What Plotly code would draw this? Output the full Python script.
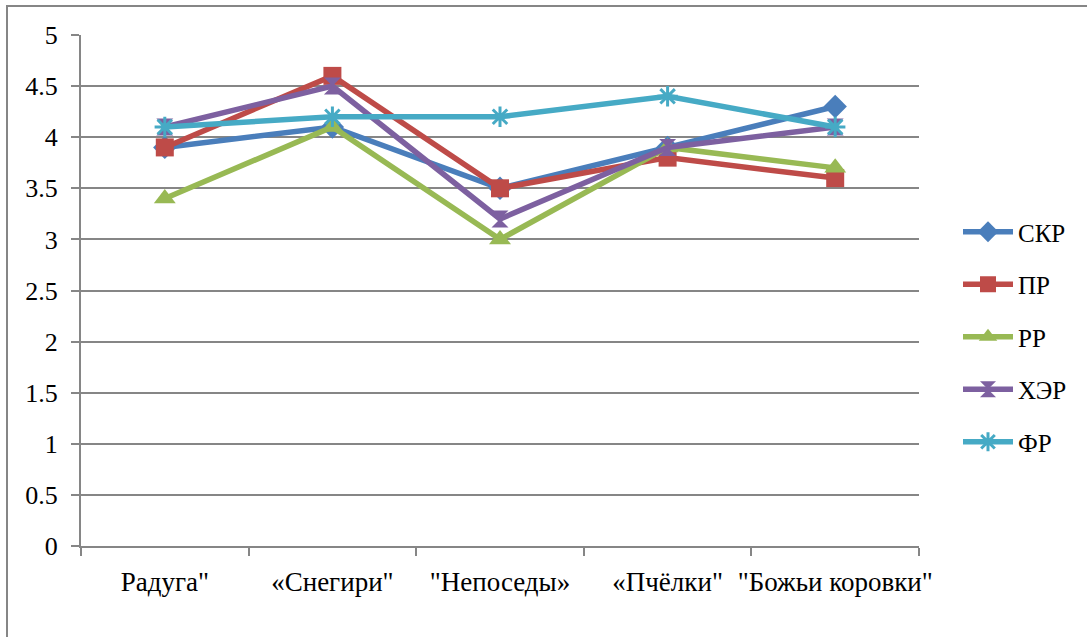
import plotly.graph_objects as go

categories = ['Радуга"', '«Снегири"', '"Непоседы»', '«Пчёлки"', '"Божьи коровки"']
skr = [3.9, 4.1, 3.5, 3.9, 4.3]
pr = [3.9, 4.6, 3.5, 3.8, 3.6]
rr = [3.4, 4.1, 3.0, 3.9, 3.7]
her = [4.1, 4.5, 3.2, 3.9, 4.1]
fr = [4.1, 4.2, 4.2, 4.4, 4.1]

series = [
    ("СКР", skr, "#4A7EBB", "diamond", 18),
    ("ПР", pr, "#BE4B48", "square", 18),
    ("РР", rr, "#98B954", "triangle-up", 19),
    ("ХЭР", her, "#7D60A0", "hourglass", 17),
    ("ФР", fr, "#46AAC5", "asterisk", 17),
]

W, H = 1087, 637
L, T = 81, 35
R = W - 919
B = H - 546
pw, ph = W - L - R, H - T - B

fig = go.Figure()
for name, vals, color, sym, sz in series:
    marker = dict(symbol=sym, size=sz, color=color)
    if sym == "asterisk":
        marker["line"] = dict(color=color, width=3)
    else:
        marker["line"] = dict(width=0)
    fig.add_trace(go.Scatter(
        x=categories, y=vals, name=name, mode="lines+markers",
        line=dict(color=color, width=5.5), marker=marker,
        legendgroup=name,
    ))

FF = "Liberation Serif"
fig.update_layout(
    width=W, height=H,
    margin=dict(l=L, r=R, t=T, b=B, autoexpand=False),
    paper_bgcolor="white", plot_bgcolor="white",
    font=dict(family=FF, size=25, color="black"),
    showlegend=True,
    legend=dict(
        x=(958 - L) / pw, xanchor="left",
        y=(546 - 337) / ph, yanchor="middle",
        font=dict(family=FF, size=25, color="black"),
        itemwidth=50, tracegroupgap=17,
        bgcolor="rgba(0,0,0,0)",
    ),
    xaxis=dict(
        type="category", showgrid=False, showline=True, linecolor="#868686", linewidth=2,
        ticks="outside", tickson="boundaries", ticklen=8, tickcolor="#868686", tickwidth=2,
        range=[-0.5, 4.5], ticklabelstandoff=11, tickangle=0, automargin=False,
        tickfont=dict(family=FF, size=27, color="black"),
    ),
    yaxis=dict(
        range=[0, 5], dtick=0.5, tick0=0, showgrid=True, gridcolor="#868686", gridwidth=2,
        showline=True, linecolor="#868686", linewidth=2, zeroline=False,
        ticks="outside", ticklen=8, tickcolor="#868686", tickwidth=2,
        ticklabelstandoff=8, automargin=False,
        tickfont=dict(family=FF, size=26, color="black"),
    ),
    shapes=[dict(
        type="rect", xref="paper", yref="paper",
        x0=(7 - L) / pw, x1=(1110 - L) / pw,
        y0=(546 - 660) / ph, y1=(546 - 6) / ph,
        line=dict(color="#868686", width=2), fillcolor="rgba(0,0,0,0)", layer="below",
    )],
)

post = (
    "document.body.style.margin='0';"
    "document.querySelectorAll('svg text').forEach(function(t){"
    "t.style.setProperty('font-family', '\"Liberation Serif\", \"Times New Roman\", serif', 'important');});"
)
fig.write_html("out.html", post_script=post, config={"displayModeBar": False})
